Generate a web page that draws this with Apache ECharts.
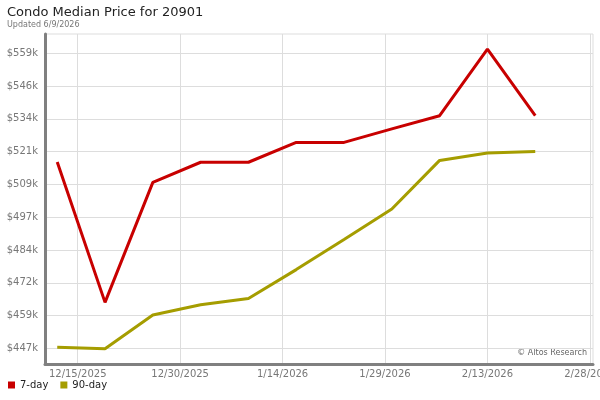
<!DOCTYPE html>
<html>
<head>
<meta charset="utf-8">
<script src="https://cdn.jsdelivr.net/npm/echarts@6/dist/echarts.min.js"></script>
<style>
  html, body { margin: 0; padding: 0; background: #fff; }
  #chart { width: 600px; height: 400px; }
</style>
</head>
<body>
<div id="chart"></div>
<script>
// weekly points, values in $k
var dates = ['2025-12-12', '2025-12-19', '2025-12-26', '2026-01-02', '2026-01-09', '2026-01-16',
             '2026-01-23', '2026-01-30', '2026-02-06', '2026-02-13', '2026-02-20'];
var sevenDay = [518.0, 464.9, 510.3, 517.9, 517.9, 525.4, 525.4, 530.5, 535.5, 560.7, 535.5];
var ninetyDay = [447.9, 447.4, 460.1, 464.0, 466.4, 477.3, 488.7, 500.2, 518.6, 521.4, 522.0];
var xTickDates = ['2025-12-15', '2025-12-30', '2026-01-14', '2026-01-29', '2026-02-13', '2026-02-28'];
var yTicks = [447.5, 459.9, 472.3, 484.7, 497.1, 509.5, 521.9, 534.3, 546.7, 559.1];

function d(s) { return new Date(s + 'T00:00:00').getTime(); }

var font = 'DejaVu Sans';
var chart = echarts.init(document.getElementById('chart'));

var option = {
  animation: false,
  textStyle: { fontFamily: font },
  title: {
    text: 'Condo Median Price for 20901',
    subtext: 'Updated 6/9/2026',
    left: 7,
    top: 6,
    padding: 0,
    itemGap: 2,
    textStyle: { fontFamily: font, fontSize: 13, fontWeight: 'normal', color: '#222' },
    subtextStyle: { fontFamily: font, fontSize: 8, color: '#777' }
  },
  legend: {
    left: 3,
    bottom: 5,
    icon: 'rect',
    itemWidth: 7,
    itemHeight: 7,
    itemGap: 12,
    textStyle: { fontFamily: font, fontSize: 10, color: '#222' },
    data: ['7-day', '90-day']
  },
  grid: {
    left: 45,
    right: 7,
    top: 34,
    bottom: 36,
    outerBoundsMode: 'none',
    containLabel: false,
    show: true,
    borderColor: '#ddd',
    borderWidth: 1
  },
  xAxis: {
    type: 'value',
    min: d('2025-12-10') + 5 * 3600e3,
    max: d('2026-02-28') + 11 * 3600e3,
    axisLine: { lineStyle: { color: '#808080', width: 3 } },
    axisTick: { show: false, customValues: xTickDates.map(d) },
    axisLabel: {
      customValues: xTickDates.map(d),
      color: '#777',
      fontSize: 10,
      margin: 5,
      formatter: function (v) {
        var t = new Date(v);
        return (t.getMonth() + 1) + '/' + t.getDate() + '/' + t.getFullYear();
      }
    },
    splitLine: { show: true, lineStyle: { color: '#ddd', width: 1 } }
  },
  yAxis: {
    type: 'value',
    min: 441.6,
    max: 566.4,
    axisLine: { show: true, lineStyle: { color: '#808080', width: 3 } },
    axisTick: { show: false, customValues: yTicks },
    axisLabel: {
      customValues: yTicks,
      color: '#777',
      fontSize: 10,
      margin: 7,
      formatter: function (v) { return '$' + Math.floor(v) + 'k'; }
    },
    splitLine: { show: true, lineStyle: { color: '#ddd', width: 1 } }
  },
  series: [
    {
      name: '7-day',
      type: 'line',
      data: dates.map(function (s, i) { return [d(s), sevenDay[i]]; }),
      showSymbol: false,
      color: '#c80000',
      lineStyle: { width: 3, color: '#c80000' }
    },
    {
      name: '90-day',
      type: 'line',
      data: dates.map(function (s, i) { return [d(s), ninetyDay[i]]; }),
      showSymbol: false,
      color: '#a59d00',
      lineStyle: { width: 3, color: '#a59d00' }
    }
  ],
  graphic: [
    {
      type: 'text',
      right: 13,
      top: 349,
      style: { text: '\u00a9 Altos Research', fill: '#666', font: '8px "DejaVu Sans"' }
    }
  ]
};

chart.setOption(option);
</script>
</body>
</html>
